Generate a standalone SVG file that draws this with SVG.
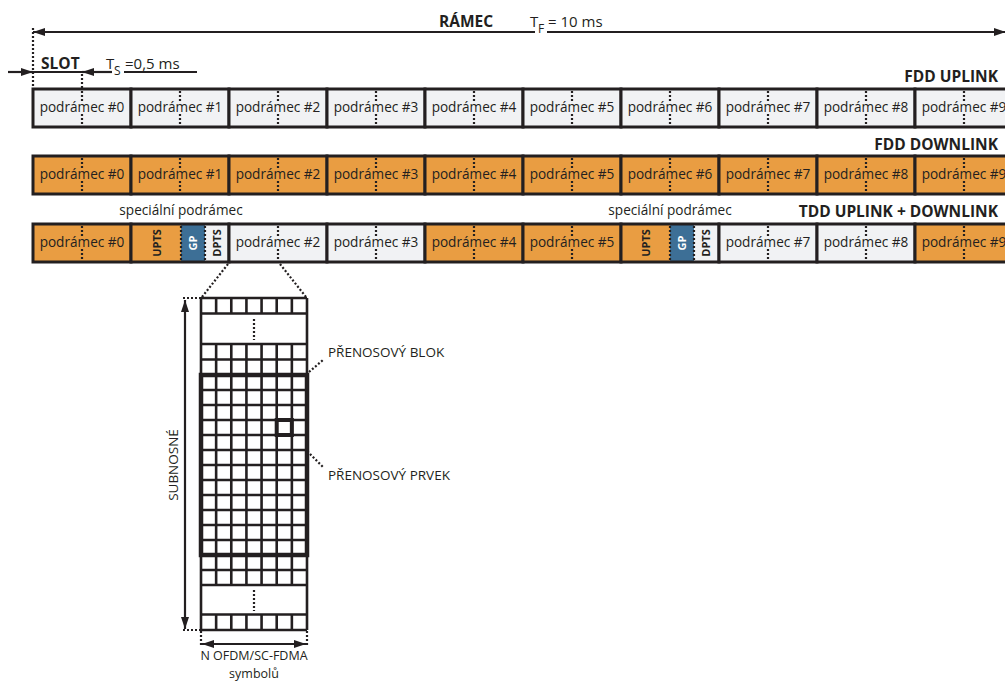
<svg xmlns="http://www.w3.org/2000/svg" width="1005" height="682" viewBox="0 0 1005 682">
<style>
text{font-family:"Open Sans","Liberation Sans",sans-serif;fill:#231f20}
.lbl{font-size:13.6px;text-anchor:middle}
.b{font-weight:bold;font-size:15.5px}
.r{text-anchor:end}
.sf{stroke:#231f20;stroke-width:3}
.lt{fill:#f1f2f4}
.or{fill:#e99d42}
.bl{fill:#3d6f96}
.no{fill:none}
.dot{stroke:#231f20;stroke-width:2.2;stroke-dasharray:2 2;fill:none}
.ln{stroke:#231f20;stroke-width:2.2;fill:none}
.sm{font-size:11px;font-weight:bold;text-anchor:middle}
.grid{stroke:#231f20;stroke-width:2.6;fill:none}
.t13{font-size:13.5px}
.t12{font-size:12.5px;text-anchor:middle}
</style>
<defs>
<marker id="ah" viewBox="0 0 12 8" refX="12" refY="4" markerWidth="12" markerHeight="8" markerUnits="userSpaceOnUse" orient="auto-start-reverse"><path d="M0,0 L12,4 L0,8 z" fill="#231f20"/></marker>
</defs>

<g id="labels">
<text class="b" x="439" y="27">RÁMEC</text>
<text x="530" y="27" style="font-size:15px">T</text>
<text x="538" y="33" style="font-size:12px">F</text>
<text x="548" y="27" style="font-size:15px">= 10 ms</text>
<text class="b" x="41" y="69">SLOT</text>
<text x="106" y="69" style="font-size:15px">T</text>
<text x="114" y="75" style="font-size:12px">S</text>
<text x="125" y="69" style="font-size:15px">=0,5 ms</text>
<text class="b r" x="998" y="82">FDD UPLINK</text>
<text class="b r" x="998" y="150">FDD DOWNLINK</text>
<text class="b r" x="998" y="217">TDD UPLINK + DOWNLINK</text>
<text class="lbl" x="181" y="215">speciální podrámec</text>
<text class="lbl" x="670" y="215">speciální podrámec</text>
<text class="t13" x="328" y="357">PŘENOSOVÝ BLOK</text>
<text class="t13" x="328" y="480">PŘENOSOVÝ PRVEK</text>
<text class="t13" style="text-anchor:middle" transform="translate(178,465) rotate(-90)">SUBNOSNÉ</text>
<text class="t12" x="254" y="660">N OFDM/SC-FDMA</text>
<text class="t12" x="254" y="677.5">symbolů</text>
</g>

<g id="connectors">
<line class="ln" x1="33" y1="32" x2="535" y2="32" marker-start="url(#ah)"/>
<line class="ln" x1="547" y1="32" x2="1006" y2="32" marker-end="url(#ah)"/>
<line class="dot" x1="33" y1="28" x2="33" y2="88"/>
<line class="ln" x1="8" y1="72" x2="33" y2="72" marker-end="url(#ah)"/>
<line class="ln" x1="33" y1="72" x2="82" y2="72"/>
<line class="ln" x1="112" y1="72" x2="82" y2="72" marker-end="url(#ah)"/>
<line class="ln" x1="124" y1="72" x2="197" y2="72"/>
<line class="dot" x1="82" y1="74" x2="82" y2="88"/>
<line class="dot" x1="228" y1="264" x2="202" y2="297"/>
<line class="dot" x1="280" y1="264" x2="306" y2="297"/>
<line class="dot" x1="183" y1="298" x2="201" y2="298"/>
<line class="dot" x1="183" y1="630" x2="201" y2="630"/>
<line class="ln" x1="185" y1="300" x2="185" y2="629" marker-start="url(#ah)" marker-end="url(#ah)"/>
<line class="dot" x1="201" y1="631" x2="201" y2="646"/>
<line class="dot" x1="307" y1="631" x2="307" y2="646"/>
<line class="ln" x1="202" y1="644" x2="306" y2="644" marker-start="url(#ah)" marker-end="url(#ah)"/>
<line class="dot" x1="309" y1="372" x2="323" y2="360"/>
<line class="dot" x1="293" y1="437" x2="323" y2="467"/>
</g>

<g id="fdd-uplink">
<g id="ul0"><rect class="sf lt" x="33" y="89" width="98" height="38"/><line class="dot" x1="82" y1="91" x2="82" y2="102"/><line class="dot" x1="82" y1="114" x2="82" y2="125"/><text class="lbl" x="82" y="112">podrámec #0</text></g>
<g id="ul1"><rect class="sf lt" x="131" y="89" width="98" height="38"/><line class="dot" x1="180" y1="91" x2="180" y2="102"/><line class="dot" x1="180" y1="114" x2="180" y2="125"/><text class="lbl" x="180" y="112">podrámec #1</text></g>
<g id="ul2"><rect class="sf lt" x="229" y="89" width="98" height="38"/><line class="dot" x1="278" y1="91" x2="278" y2="102"/><line class="dot" x1="278" y1="114" x2="278" y2="125"/><text class="lbl" x="278" y="112">podrámec #2</text></g>
<g id="ul3"><rect class="sf lt" x="327" y="89" width="98" height="38"/><line class="dot" x1="376" y1="91" x2="376" y2="102"/><line class="dot" x1="376" y1="114" x2="376" y2="125"/><text class="lbl" x="376" y="112">podrámec #3</text></g>
<g id="ul4"><rect class="sf lt" x="425" y="89" width="98" height="38"/><line class="dot" x1="474" y1="91" x2="474" y2="102"/><line class="dot" x1="474" y1="114" x2="474" y2="125"/><text class="lbl" x="474" y="112">podrámec #4</text></g>
<g id="ul5"><rect class="sf lt" x="523" y="89" width="98" height="38"/><line class="dot" x1="572" y1="91" x2="572" y2="102"/><line class="dot" x1="572" y1="114" x2="572" y2="125"/><text class="lbl" x="572" y="112">podrámec #5</text></g>
<g id="ul6"><rect class="sf lt" x="621" y="89" width="98" height="38"/><line class="dot" x1="670" y1="91" x2="670" y2="102"/><line class="dot" x1="670" y1="114" x2="670" y2="125"/><text class="lbl" x="670" y="112">podrámec #6</text></g>
<g id="ul7"><rect class="sf lt" x="719" y="89" width="98" height="38"/><line class="dot" x1="768" y1="91" x2="768" y2="102"/><line class="dot" x1="768" y1="114" x2="768" y2="125"/><text class="lbl" x="768" y="112">podrámec #7</text></g>
<g id="ul8"><rect class="sf lt" x="817" y="89" width="98" height="38"/><line class="dot" x1="866" y1="91" x2="866" y2="102"/><line class="dot" x1="866" y1="114" x2="866" y2="125"/><text class="lbl" x="866" y="112">podrámec #8</text></g>
<g id="ul9"><rect class="sf lt" x="915" y="89" width="98" height="38"/><line class="dot" x1="964" y1="91" x2="964" y2="102"/><line class="dot" x1="964" y1="114" x2="964" y2="125"/><text class="lbl" x="964" y="112">podrámec #9</text></g>
</g>

<g id="fdd-downlink">
<g id="dl0"><rect class="sf or" x="33" y="156" width="98" height="38"/><line class="dot" x1="82" y1="158" x2="82" y2="169"/><line class="dot" x1="82" y1="181" x2="82" y2="192"/><text class="lbl" x="82" y="179">podrámec #0</text></g>
<g id="dl1"><rect class="sf or" x="131" y="156" width="98" height="38"/><line class="dot" x1="180" y1="158" x2="180" y2="169"/><line class="dot" x1="180" y1="181" x2="180" y2="192"/><text class="lbl" x="180" y="179">podrámec #1</text></g>
<g id="dl2"><rect class="sf or" x="229" y="156" width="98" height="38"/><line class="dot" x1="278" y1="158" x2="278" y2="169"/><line class="dot" x1="278" y1="181" x2="278" y2="192"/><text class="lbl" x="278" y="179">podrámec #2</text></g>
<g id="dl3"><rect class="sf or" x="327" y="156" width="98" height="38"/><line class="dot" x1="376" y1="158" x2="376" y2="169"/><line class="dot" x1="376" y1="181" x2="376" y2="192"/><text class="lbl" x="376" y="179">podrámec #3</text></g>
<g id="dl4"><rect class="sf or" x="425" y="156" width="98" height="38"/><line class="dot" x1="474" y1="158" x2="474" y2="169"/><line class="dot" x1="474" y1="181" x2="474" y2="192"/><text class="lbl" x="474" y="179">podrámec #4</text></g>
<g id="dl5"><rect class="sf or" x="523" y="156" width="98" height="38"/><line class="dot" x1="572" y1="158" x2="572" y2="169"/><line class="dot" x1="572" y1="181" x2="572" y2="192"/><text class="lbl" x="572" y="179">podrámec #5</text></g>
<g id="dl6"><rect class="sf or" x="621" y="156" width="98" height="38"/><line class="dot" x1="670" y1="158" x2="670" y2="169"/><line class="dot" x1="670" y1="181" x2="670" y2="192"/><text class="lbl" x="670" y="179">podrámec #6</text></g>
<g id="dl7"><rect class="sf or" x="719" y="156" width="98" height="38"/><line class="dot" x1="768" y1="158" x2="768" y2="169"/><line class="dot" x1="768" y1="181" x2="768" y2="192"/><text class="lbl" x="768" y="179">podrámec #7</text></g>
<g id="dl8"><rect class="sf or" x="817" y="156" width="98" height="38"/><line class="dot" x1="866" y1="158" x2="866" y2="169"/><line class="dot" x1="866" y1="181" x2="866" y2="192"/><text class="lbl" x="866" y="179">podrámec #8</text></g>
<g id="dl9"><rect class="sf or" x="915" y="156" width="98" height="38"/><line class="dot" x1="964" y1="158" x2="964" y2="169"/><line class="dot" x1="964" y1="181" x2="964" y2="192"/><text class="lbl" x="964" y="179">podrámec #9</text></g>
</g>

<g id="tdd">
<g id="td0"><rect class="sf or" x="33" y="224" width="98" height="38"/><line class="dot" x1="82" y1="226" x2="82" y2="237"/><line class="dot" x1="82" y1="249" x2="82" y2="260"/><text class="lbl" x="82" y="247">podrámec #0</text></g>
<g id="td1">
<rect class="or" x="131" y="224" width="50" height="38"/><rect class="bl" x="181" y="224" width="24" height="38"/><rect class="lt" x="205" y="224" width="24" height="38"/>
<rect class="sf no" x="131" y="224" width="98" height="38"/>
<line class="dot" x1="181" y1="226" x2="181" y2="260"/><line class="dot" x1="205" y1="226" x2="205" y2="260"/>
<text class="sm" transform="translate(161,243) rotate(-90)">UPTS</text>
<text class="sm" style="fill:#fff" transform="translate(197,243) rotate(-90)">GP</text>
<text class="sm" transform="translate(221,243) rotate(-90)">DPTS</text>
</g>
<g id="td2"><rect class="sf lt" x="229" y="224" width="98" height="38"/><line class="dot" x1="278" y1="226" x2="278" y2="237"/><line class="dot" x1="278" y1="249" x2="278" y2="260"/><text class="lbl" x="278" y="247">podrámec #2</text></g>
<g id="td3"><rect class="sf lt" x="327" y="224" width="98" height="38"/><line class="dot" x1="376" y1="226" x2="376" y2="237"/><line class="dot" x1="376" y1="249" x2="376" y2="260"/><text class="lbl" x="376" y="247">podrámec #3</text></g>
<g id="td4"><rect class="sf or" x="425" y="224" width="98" height="38"/><line class="dot" x1="474" y1="226" x2="474" y2="237"/><line class="dot" x1="474" y1="249" x2="474" y2="260"/><text class="lbl" x="474" y="247">podrámec #4</text></g>
<g id="td5"><rect class="sf or" x="523" y="224" width="98" height="38"/><line class="dot" x1="572" y1="226" x2="572" y2="237"/><line class="dot" x1="572" y1="249" x2="572" y2="260"/><text class="lbl" x="572" y="247">podrámec #5</text></g>
<g id="td6">
<rect class="or" x="621" y="224" width="49" height="38"/><rect class="bl" x="670" y="224" width="24" height="38"/><rect class="lt" x="694" y="224" width="25" height="38"/>
<rect class="sf no" x="621" y="224" width="98" height="38"/>
<line class="dot" x1="670" y1="226" x2="670" y2="260"/><line class="dot" x1="694" y1="226" x2="694" y2="260"/>
<text class="sm" transform="translate(650,243) rotate(-90)">UPTS</text>
<text class="sm" style="fill:#fff" transform="translate(686,243) rotate(-90)">GP</text>
<text class="sm" transform="translate(710,243) rotate(-90)">DPTS</text>
</g>
<g id="td7"><rect class="sf lt" x="719" y="224" width="98" height="38"/><line class="dot" x1="768" y1="226" x2="768" y2="237"/><line class="dot" x1="768" y1="249" x2="768" y2="260"/><text class="lbl" x="768" y="247">podrámec #7</text></g>
<g id="td8"><rect class="sf lt" x="817" y="224" width="98" height="38"/><line class="dot" x1="866" y1="226" x2="866" y2="237"/><line class="dot" x1="866" y1="249" x2="866" y2="260"/><text class="lbl" x="866" y="247">podrámec #8</text></g>
<g id="td9"><rect class="sf or" x="915" y="224" width="98" height="38"/><line class="dot" x1="964" y1="226" x2="964" y2="237"/><line class="dot" x1="964" y1="249" x2="964" y2="260"/><text class="lbl" x="964" y="247">podrámec #9</text></g>
</g>

<g id="resource-grid">
<rect x="201" y="298" width="106" height="332" fill="#fff"/>
<path class="grid" d="M201 298H307M201 313.5H307M201 344H307M201 359.5H307M201 375H307M201 390H307M201 405H307M201 420H307M201 435H307M201 450H307M201 465H307M201 480H307M201 495H307M201 510H307M201 525H307M201 540H307M201 555H307M201 570H307M201 585H307M201 614.5H307M201 630H307
M201 298V630M307 298V630
M216.14 298V313.5M216.14 344V585M216.14 614.5V630
M231.29 298V313.5M231.29 344V585M231.29 614.5V630
M246.43 298V313.5M246.43 344V585M246.43 614.5V630
M261.57 298V313.5M261.57 344V585M261.57 614.5V630
M276.71 298V313.5M276.71 344V585M276.71 614.5V630
M291.86 298V313.5M291.86 344V585M291.86 614.5V630"/>
<line class="dot" x1="254" y1="319" x2="254" y2="340"/>
<line class="dot" x1="254" y1="590" x2="254" y2="611"/>
</g>
<g id="resource-block"><rect x="201" y="375" width="106" height="180" fill="none" stroke="#231f20" stroke-width="4.5"/></g>
<g id="resource-element"><rect x="276.71" y="420" width="15.15" height="15" fill="none" stroke="#231f20" stroke-width="4"/></g>
</svg>
